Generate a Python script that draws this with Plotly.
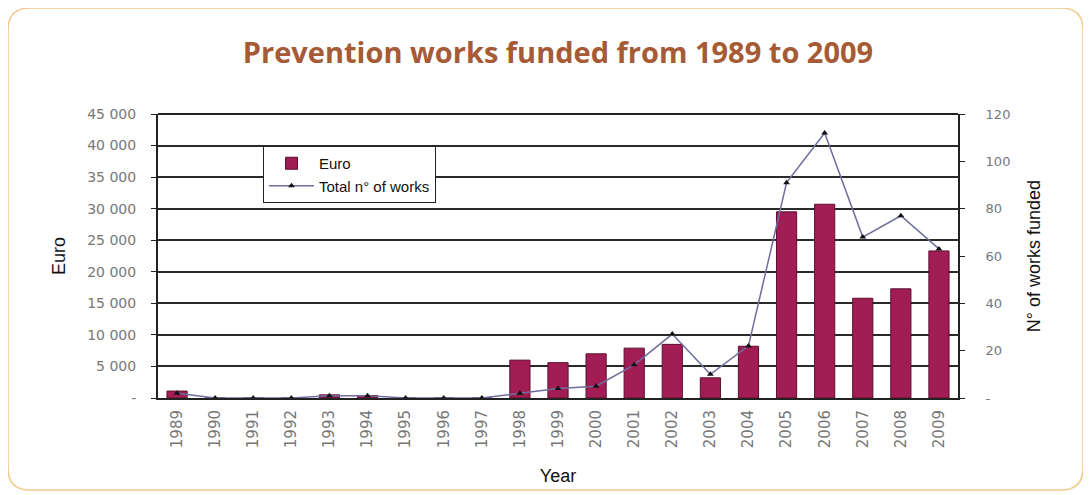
import plotly.graph_objects as go

years = [str(y) for y in range(1989, 2010)]
euro = [1100, 0, 0, 0, 500, 400, 0, 0, 0, 6000, 5600, 7000, 7900, 8500,
        3200, 8200, 29500, 30700, 15800, 17300, 23300]
works = [2, 0, 0, 0, 1, 1, 0, 0, 0, 2, 4, 5, 14, 27, 10, 22, 91, 112, 68, 77, 63]

left_vals = [0, 5000, 10000, 15000, 20000, 25000, 30000, 35000, 40000, 45000]
left_text = ["-", "5 000", "10 000", "15 000", "20 000", "25 000", "30 000",
             "35 000", "40 000", "45 000"]
right_vals = [0, 20, 40, 60, 80, 100, 120]
right_text = ["-", "20", "40", "60", "80", "100", "120"]

# page body has an 8px margin: figure coordinates = page coordinates - 8
OFF = 8
W, H = 1083, 487
L, R, T, B = 150, 133, 106, 97
pw, ph = W - L - R, H - T - B

fig = go.Figure()
fig.add_trace(go.Bar(
    x=years, y=euro, name="Euro",
    marker=dict(color="#A31D55", line=dict(color="#5A1030", width=1)),
    yaxis="y",
))
fig.add_trace(go.Scatter(
    x=years, y=works, name="Total n° of works", mode="lines+markers",
    line=dict(color="#6E6E9E", width=1.5),
    marker=dict(symbol="triangle-up", size=6, color="#111"),
    yaxis="y2",
))

def px(x):
    return (x - OFF - L) / pw

def py(y):
    return (H - B - (y - OFF)) / ph

# rounded outer border (page coordinates)
x0, x1, y0, y1, r = 8, 1083, 8, 490, 22
path = (
    f"M {px(x0 + r)} {py(y0)} L {px(x1 - r)} {py(y0)} "
    f"Q {px(x1)} {py(y0)} {px(x1)} {py(y0 + r)} "
    f"L {px(x1)} {py(y1 - r)} "
    f"Q {px(x1)} {py(y1)} {px(x1 - r)} {py(y1)} "
    f"L {px(x0 + r)} {py(y1)} "
    f"Q {px(x0)} {py(y1)} {px(x0)} {py(y1 - r)} "
    f"L {px(x0)} {py(y0 + r)} "
    f"Q {px(x0)} {py(y0)} {px(x0 + r)} {py(y0)} Z"
)

fig.update_layout(
    width=W, height=H,
    margin=dict(l=L, r=R, t=T, b=B),
    paper_bgcolor="white", plot_bgcolor="white",
    font=dict(family="Liberation Sans, Arial, sans-serif", color="#222"),
    title=dict(text="<b>Prevention works funded from 1989 to 2009</b>",
               x=0.5, xref="paper", xanchor="center",
               y=1 - (53 - OFF) / H, yanchor="middle", yref="container",
               font=dict(family="Open Sans, sans-serif", size=29, color="#A65A35")),
    bargap=0.47,
    showlegend=True,
    legend=dict(x=px(263), y=py(146), xanchor="left", yanchor="top",
                bgcolor="white", bordercolor="#222", borderwidth=1,
                font=dict(size=15, color="#111"), tracegroupgap=0,
                itemwidth=45),
    xaxis=dict(type="category", range=[-0.5, 20.5], tickangle=-90, showgrid=False,
               tickfont=dict(family="DejaVu Sans, sans-serif", size=15, color="#777"),
               ticklabelstandoff=4,
               title=dict(text="Year", font=dict(size=18, color="#111"), standoff=22),
               showline=True, linecolor="#222", linewidth=2,
               ticks="", mirror=False),
    yaxis=dict(range=[0, 45000], tickvals=left_vals, ticktext=left_text,
               showgrid=True, gridcolor="#2a2a2a", gridwidth=1.8,
               showline=True, linecolor="#222", linewidth=2,
               ticks="outside", ticklen=5, tickcolor="#222",
               ticklabelstandoff=12,
               tickfont=dict(family="DejaVu Sans, sans-serif", size=14, color="#777"),
               title=dict(text="Euro", font=dict(size=18, color="#111"), standoff=17),
               zeroline=False),
    yaxis2=dict(range=[0, 120], tickvals=right_vals, ticktext=right_text,
                overlaying="y", side="right", showgrid=False,
                showline=True, linecolor="#222", linewidth=2,
                ticks="outside", ticklen=5, tickcolor="#222",
                ticklabelstandoff=18,
                tickfont=dict(family="DejaVu Sans, sans-serif", size=13, color="#777"),
                title=dict(text="N° of works funded", font=dict(size=18, color="#111"),
                           standoff=18),
                zeroline=False),
    shapes=[
        dict(type="path", xref="paper", yref="paper", path=path,
             line=dict(color="#F2C98A", width=1.5), layer="below"),
        dict(type="line", xref="paper", yref="paper", x0=0, x1=1, y0=1, y1=1,
             line=dict(color="#222", width=2)),
    ],
)

fig.write_html("out.html")
